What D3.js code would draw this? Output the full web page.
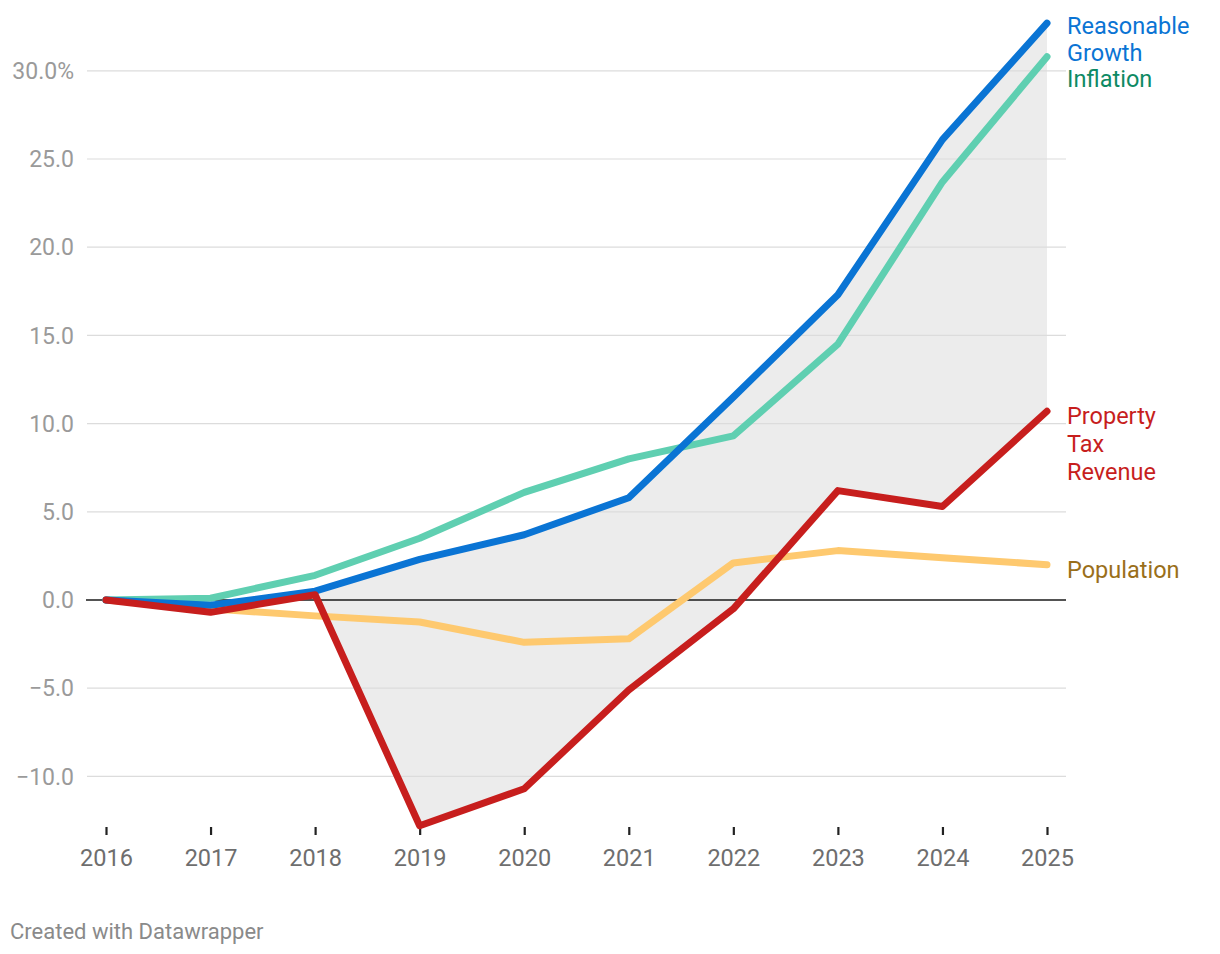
<!DOCTYPE html>
<html><head><meta charset="utf-8">
<script src="https://cdn.jsdelivr.net/npm/d3@7"></script>
<style>body{margin:0;background:#fff;font-family:Roboto,"Noto Sans",sans-serif;}</style>
</head><body>
<svg id="chart" width="1220" height="954"></svg>
<script>
const years = [2016,2017,2018,2019,2020,2021,2022,2023,2024,2025];
const reasonableGrowth = [0,-0.3,0.5,2.3,3.7,5.8,11.5,17.3,26.1,32.7];
const inflation = [0,0.1,1.4,3.5,6.1,8.0,9.3,14.5,23.7,30.8];
const propertyTax = [0,-0.7,0.3,-12.8,-10.7,-5.1,-0.5,6.2,5.3,10.7];
const population = [0,-0.5,-0.9,-1.25,-2.4,-2.2,2.1,2.8,2.4,2.0];
const yTicks = [-10,-5,0,5,10,15,20,25,30];

const svg = d3.select("#chart");
const x = d3.scalePoint().domain(years).range([106,1047]);
const y = d3.scaleLinear().domain([0,30]).range([600,70.8]);

// shaded area between reasonable growth and property tax
const areaData = years.map((yr,i)=>({yr, hi:reasonableGrowth[i], lo:propertyTax[i]}));
svg.append("path").datum(areaData)
  .attr("d", d3.area().x(d=>x(d.yr)).y0(d=>y(d.lo)).y1(d=>y(d.hi)))
  .attr("fill","#ececec");

// y grid + labels
const yAxis = svg.append("g");
yTicks.forEach(t=>{
  if(t!==0) yAxis.append("line").attr("x1",87).attr("x2",1066).attr("y1",y(t)).attr("y2",y(t))
    .attr("stroke","#dcdcdc").attr("stroke-width",1.2);
  yAxis.append("text").attr("x",74).attr("y",y(t)).attr("dy","0.36em")
    .attr("text-anchor","end").attr("fill","#9a9a9a").attr("font-size",23)
    .text(t===30 ? "30.0%" : d3.format(".1f")(t).replace("-","\u2212"));
});

// x axis
const xAxis = d3.axisBottom(x).tickSize(8).tickPadding(14).tickFormat(d3.format("d"));
const gx = svg.append("g").attr("transform","translate(0,827)").call(xAxis);
gx.select(".domain").remove();
gx.selectAll(".tick line").attr("stroke","#222").attr("stroke-width",2.2);
gx.selectAll(".tick text").attr("fill","#6e6e6e").attr("font-size",23.5).attr("font-family","Roboto,sans-serif");

// zero line
svg.append("line").attr("x1",86).attr("x2",1066).attr("y1",y(0)).attr("y2",y(0))
  .attr("stroke","#1a1a1a").attr("stroke-width",1.6);

const line = d3.line().x((d,i)=>x(years[i])).y(d=>y(d));
const series = [
  {name:"Population", vals:population, color:"#fec96f"},
  {name:"Inflation", vals:inflation, color:"#5fcfb1"},
  {name:"Reasonable Growth", vals:reasonableGrowth, color:"#0a74d4"},
  {name:"Property Tax Revenue", vals:propertyTax, color:"#c71e1d"}
];
series.forEach(s=>{
  svg.append("path").datum(s.vals).attr("d",line).attr("fill","none")
    .attr("stroke",s.color).attr("stroke-width",7)
    .attr("stroke-linecap","round").attr("stroke-linejoin","round");
});

// labels
const labels = [
  {lines:["Reasonable","Growth"], y0:26, lh:27, color:"#0a74d4"},
  {lines:["Inflation"], y0:79, lh:28, color:"#0e8a64"},
  {lines:["Property","Tax","Revenue"], y0:416, lh:28, color:"#c71e1d"},
  {lines:["Population"], y0:570, lh:28, color:"#9a6f1a"}
];
labels.forEach(l=>{
  l.lines.forEach((t,i)=>{
    svg.append("text").attr("x",1067).attr("y",l.y0+i*l.lh).attr("dy","0.36em")
      .attr("fill",l.color).attr("font-size",23.5).text(t);
  });
});

svg.append("text").attr("x",10).attr("y",931).attr("dy","0.36em")
  .attr("fill","#8a8a8a").attr("font-size",22).text("Created with Datawrapper");
</script>
</body></html>
